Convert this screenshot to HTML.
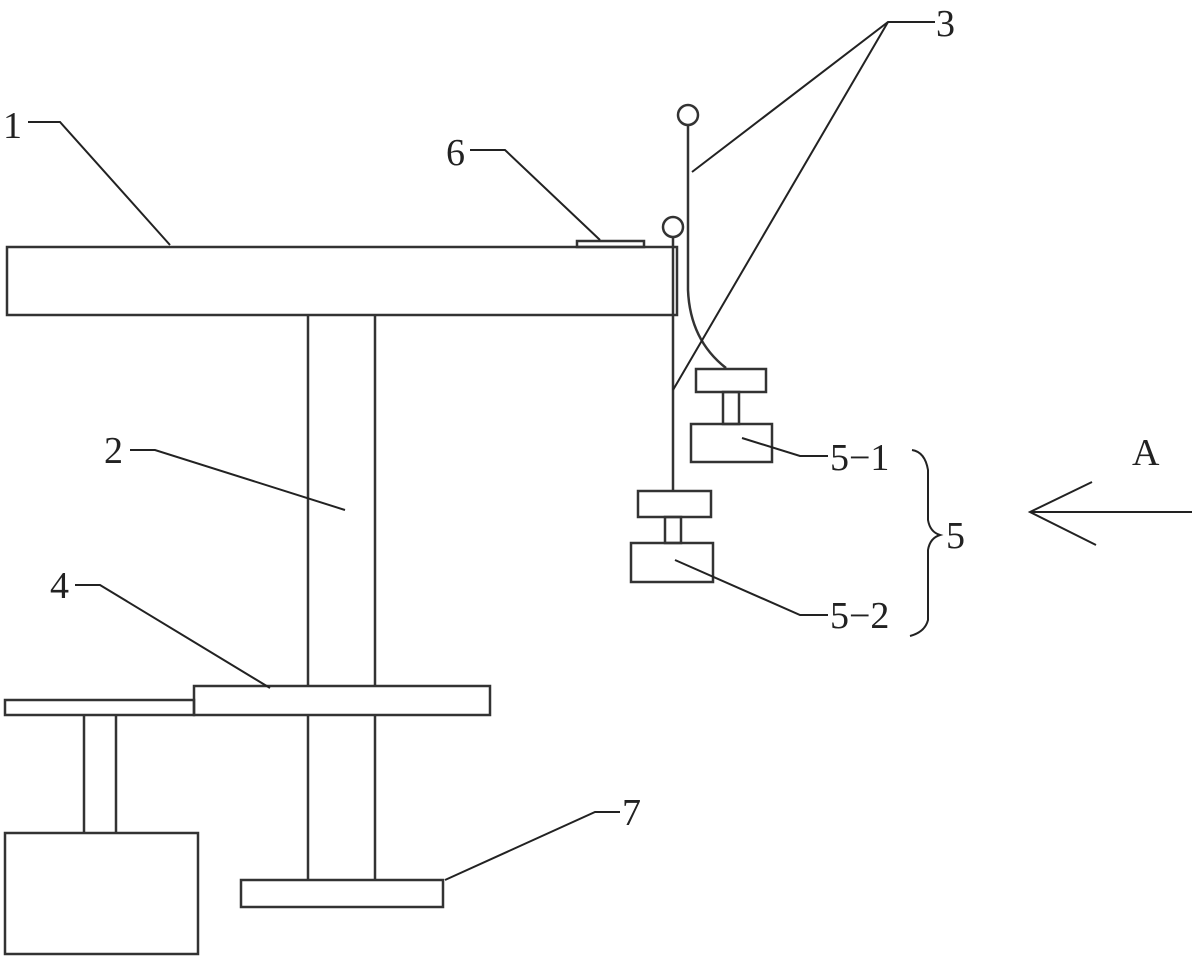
<!DOCTYPE html>
<html><head><meta charset="utf-8"><style>
html,body{margin:0;padding:0;background:#fff;}
svg{display:block}
text{font-family:"Liberation Serif",serif;font-size:38px;fill:#222;}
</style></head><body>
<svg width="1200" height="963" viewBox="0 0 1200 963" xmlns="http://www.w3.org/2000/svg">
<g fill="none" stroke="#333" stroke-width="2.5">
<!-- table 1 -->
<rect x="7" y="247" width="670" height="68"/>
<rect x="577" y="241" width="67" height="6"/>
<!-- column 2 -->
<line x1="308" y1="315" x2="308" y2="686"/>
<line x1="375" y1="315" x2="375" y2="686"/>
<line x1="308" y1="715" x2="308" y2="880"/>
<line x1="375" y1="715" x2="375" y2="880"/>
<!-- plate 4 -->
<rect x="194" y="686" width="296" height="29"/>
<rect x="5" y="700" width="189" height="15"/>
<line x1="84" y1="715" x2="84" y2="833"/>
<line x1="116" y1="715" x2="116" y2="833"/>
<rect x="5" y="833" width="193" height="121"/>
<!-- base 7 -->
<rect x="241" y="880" width="202" height="27"/>
<!-- hooks 3 -->
<circle cx="688" cy="115" r="10"/>
<path d="M688 125 L688 290 Q690 340 726 368"/>
<circle cx="673" cy="227" r="10"/>
<line x1="673" y1="237" x2="673" y2="491"/>
<!-- 5-1 -->
<rect x="696" y="369" width="70" height="23"/>
<rect x="723" y="392" width="16" height="32"/>
<rect x="691" y="424" width="81" height="38"/>
<!-- 5-2 -->
<rect x="638" y="491" width="73" height="26"/>
<rect x="665" y="517" width="16" height="26"/>
<rect x="631" y="543" width="82" height="39"/>
</g>
<g fill="none" stroke="#222" stroke-width="2">
<!-- leaders -->
<polyline points="28,122 60,122 170,245"/>
<polyline points="470,150 505,150 600,240"/>
<polyline points="130,450 155,450 345,510"/>
<polyline points="75,585 100,585 270,688"/>
<polyline points="620,812 595,812 445,880"/>
<polyline points="935,22 888,22 692,172"/>
<polyline points="888,22 673,390"/>
<polyline points="742,438 800,456 828,456"/>
<polyline points="675,560 800,615 828,615"/>
<!-- brace -->
<path d="M912 450 Q925 452 928 470 L928 520 Q930 532 940 535 Q930 538 928 550 L928 620 Q925 632 910 636"/>
<!-- arrow A -->
<line x1="1030" y1="512" x2="1192" y2="512"/>
<polyline points="1092,482 1030,512 1096,545"/>
</g>
<text x="3" y="138">1</text>
<text x="446" y="165">6</text>
<text x="104" y="463">2</text>
<text x="50" y="598">4</text>
<text x="622" y="825">7</text>
<text x="936" y="36">3</text>
<text x="830" y="470">5−1</text>
<text x="830" y="628">5−2</text>
<text x="946" y="548">5</text>
<text x="1132" y="465">A</text>
</svg>
</body></html>
